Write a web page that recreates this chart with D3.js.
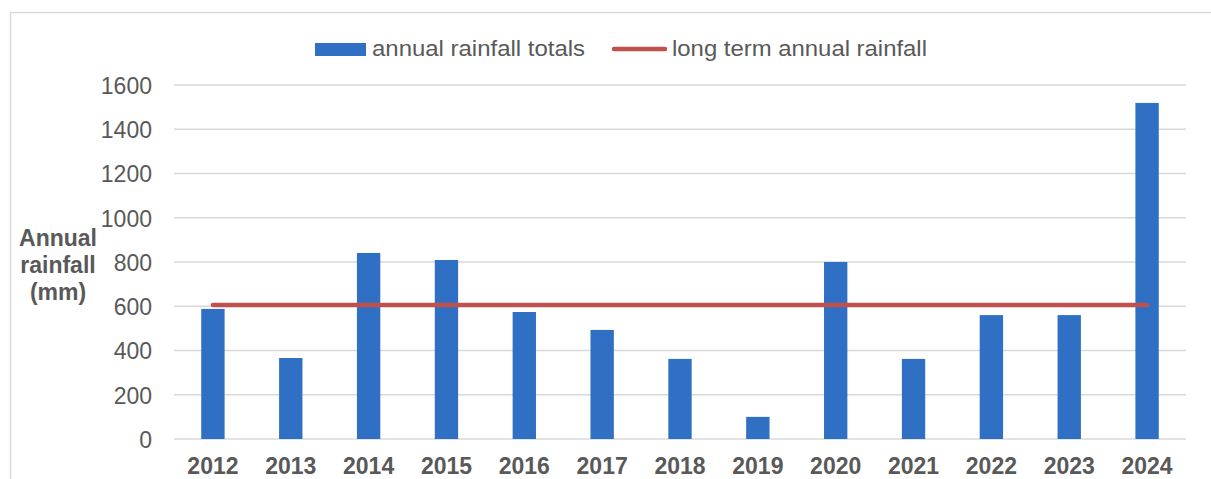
<!DOCTYPE html>
<html>
<head>
<meta charset="utf-8">
<script src="https://cdn.jsdelivr.net/npm/d3@7"></script>
<style>
  body { margin: 0; background: #fff; }
  svg { display: block; font-family: "Liberation Sans", Arial, sans-serif; }
</style>
</head>
<body>
<svg id="chart" width="1211" height="479"></svg>
<script>
const years = ["2012","2013","2014","2015","2016","2017","2018","2019","2020","2021","2022","2023","2024"];
const rainfallTotals = [588, 366, 841, 809, 574, 493, 362, 100, 800, 362, 560, 560, 1519];
const longTermAnnual = [606, 606, 606, 606, 606, 606, 606, 606, 606, 606, 606, 606, 606];
const yTicks = [0, 200, 400, 600, 800, 1000, 1200, 1400, 1600];
const seriesNames = ["annual rainfall totals", "long term annual rainfall"];
const yTitle = ["Annual", "rainfall", "(mm)"];

const svg = d3.select("#chart");
const W = 1211, H = 479;
const plotLeft = 174, plotRight = 1186, plotTop = 85, plotBottom = 439;
const textColor = "#595959";

// outer frame
svg.append("rect").attr("x", 10.5).attr("y", 12.5).attr("width", W + 10).attr("height", H + 10)
  .attr("fill", "none").attr("stroke", "#d9d9d9").attr("stroke-width", 1.5);

const x = d3.scaleBand().domain(years).range([plotLeft, plotRight]).paddingInner(0.7).paddingOuter(0.35);
const y = d3.scaleLinear().domain([0, 1600]).range([plotBottom, plotTop]);

// gridlines
svg.append("g").selectAll("line").data(yTicks).join("line")
  .attr("x1", plotLeft).attr("x2", plotRight)
  .attr("y1", d => y(d)).attr("y2", d => y(d))
  .attr("stroke", "#d9d9d9").attr("stroke-width", 1.5);

// y axis labels
const yAxis = d3.axisLeft(y).tickValues(yTicks).tickFormat(d3.format("d")).tickSize(0).tickPadding(0);
const gy = svg.append("g").attr("transform", `translate(${152},0)`).call(yAxis);
gy.select(".domain").remove();
gy.selectAll("text").attr("font-size", 23).attr("fill", textColor)
  .attr("font-family", "Liberation Sans, Arial, sans-serif").attr("dy", "0.36em");

// bars
svg.append("g").selectAll("rect").data(years).join("rect")
  .attr("x", d => x(d)).attr("width", x.bandwidth())
  .attr("y", (d, i) => y(rainfallTotals[i]))
  .attr("height", (d, i) => y(0) - y(rainfallTotals[i]))
  .attr("fill", "#3070C4");

// long term line
const line = d3.line().x((d, i) => x(years[i]) + x.bandwidth() / 2).y(d => y(d));
svg.append("path").datum(longTermAnnual).attr("d", line)
  .attr("fill", "none").attr("stroke", "#C0504D").attr("stroke-width", 4.5)
  .attr("stroke-linecap", "round");

// x axis labels
const xAxis = d3.axisBottom(x).tickSize(0).tickPadding(0);
const gx = svg.append("g").attr("transform", `translate(0,${plotBottom})`).call(xAxis);
gx.select(".domain").remove();
gx.selectAll("text").attr("font-size", 23).attr("font-weight", "bold").attr("fill", textColor)
  .attr("font-family", "Liberation Sans, Arial, sans-serif").attr("dy", 0).attr("y", 35);

// y title
const t = svg.append("text").attr("font-size", 23).attr("font-weight", "bold").attr("fill", textColor)
  .attr("text-anchor", "middle");
yTitle.forEach((s, i) => {
  t.append("tspan").attr("x", 58).attr("y", 246 + i * 27).text(s);
});

// legend
const lg = svg.append("g");
lg.append("rect").attr("x", 315).attr("y", 43).attr("width", 51).attr("height", 13).attr("fill", "#3070C4");
lg.append("text").attr("x", 372).attr("y", 56).attr("font-size", 22).attr("fill", textColor)
  .attr("textLength", 213).attr("lengthAdjust", "spacingAndGlyphs").text(seriesNames[0]);
lg.append("line").attr("x1", 614).attr("x2", 665).attr("y1", 49).attr("y2", 49)
  .attr("stroke", "#C0504D").attr("stroke-width", 4.5).attr("stroke-linecap", "round");
lg.append("text").attr("x", 672).attr("y", 56).attr("font-size", 22).attr("fill", textColor)
  .attr("textLength", 255).attr("lengthAdjust", "spacingAndGlyphs").text(seriesNames[1]);
</script>
</body>
</html>
